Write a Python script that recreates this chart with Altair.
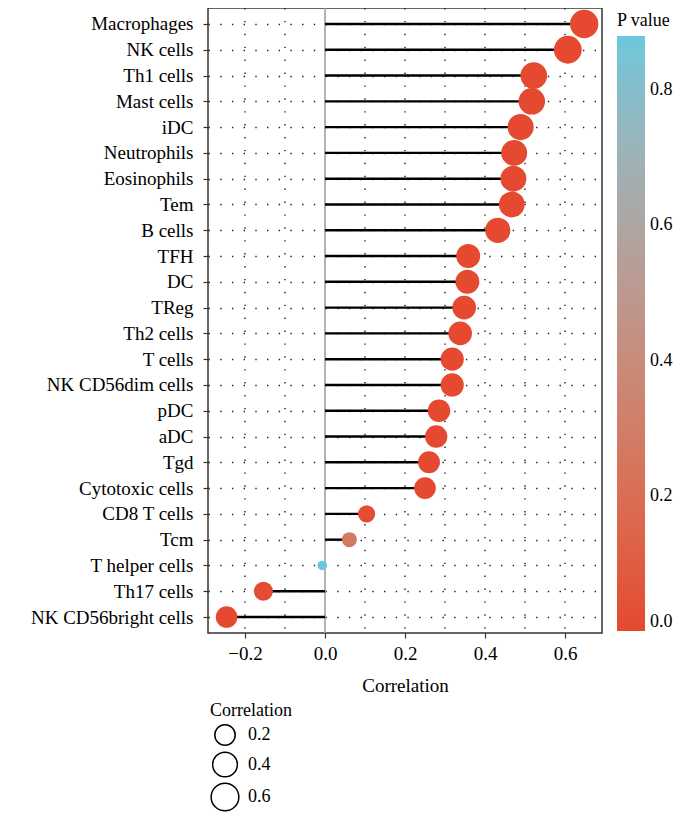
import altair as alt
import pandas as pd

cells = ["Macrophages", "NK cells", "Th1 cells", "Mast cells", "iDC", "Neutrophils",
         "Eosinophils", "Tem", "B cells", "TFH", "DC", "TReg", "Th2 cells", "T cells",
         "NK CD56dim cells", "pDC", "aDC", "Tgd", "Cytotoxic cells", "CD8 T cells",
         "Tcm", "T helper cells", "Th17 cells", "NK CD56bright cells"]
correlation = [0.648, 0.607, 0.522, 0.517, 0.489, 0.473, 0.471, 0.467, 0.432, 0.358,
               0.356, 0.348, 0.338, 0.318, 0.318, 0.285, 0.278, 0.260, 0.250, 0.104,
               0.061, -0.007, -0.154, -0.246]
p_values = [0.0, 0.0, 0.0, 0.0, 0.0, 0.0, 0.0, 0.0, 0.0, 0.0, 0.0, 0.0, 0.0, 0.0,
            0.0, 0.0, 0.0, 0.0, 0.0, 0.02, 0.27, 0.88, 0.01, 0.0]
grid_x = [-0.2, -0.1, 0.1, 0.2, 0.3, 0.4, 0.5, 0.6]
zero_line = [0.0]
x_ticks = [-0.2, 0.0, 0.2, 0.4, 0.6]
p_ticks = [0.0, 0.2, 0.4, 0.6, 0.8]
size_ticks = [0.2, 0.4, 0.6]

FONT = "Liberation Serif"

df = pd.DataFrame({"cell": cells, "cor": correlation, "p": p_values})

xscale = alt.Scale(domain=[-0.2925, 0.6925], nice=False, zero=False)
x_axis = alt.Axis(title="Correlation", values=x_ticks, format=".1f", grid=False,
                  tickSize=5, labelPadding=6, labelFontSize=19, titleFontSize=19,
                  titleFontWeight="normal", titlePadding=13, domain=False)
y_enc = alt.Y("cell:N", sort=cells,
              scale=alt.Scale(type="point", padding=0.62),
              axis=alt.Axis(title=None, grid=True, gridDash=[1.4, 10.3], gridColor="#222",
                            gridWidth=1.4, tickSize=5, labelPadding=10, labelFontSize=19,
                            domain=False))

grid = alt.Chart(pd.DataFrame({"g": grid_x})).mark_rule(
    strokeDash=[1.4, 11.5], color="#222", strokeWidth=1.4
).encode(x=alt.X("g:Q", scale=xscale, axis=x_axis))

zero = alt.Chart(pd.DataFrame({"z": zero_line})).mark_rule(
    color="#9a9a9a", strokeWidth=1.5
).encode(x=alt.X("z:Q", scale=xscale, axis=x_axis))

sticks = alt.Chart(df).mark_rule(color="black", strokeWidth=2.4).encode(
    x=alt.X("cor:Q", scale=xscale, axis=x_axis),
    x2=alt.X2Datum(0),
    y=y_enc,
)

dots = alt.Chart(df).transform_calculate(abscor="abs(datum.cor)").mark_circle(
    opacity=1
).encode(
    x=alt.X("cor:Q", scale=xscale, axis=x_axis),
    y=y_enc,
    size=alt.Size("abscor:Q",
                  scale=alt.Scale(type="pow", exponent=0.6, domain=[0, 0.65],
                                  range=[39.5, 804]),
                  legend=alt.Legend(title="Correlation", orient="none", legendX=2,
                                    legendY=694, values=size_ticks, format=".1f",
                                    symbolType="circle", symbolFillColor="white",
                                    symbolStrokeColor="black", symbolStrokeWidth=1.5,
                                    labelFontSize=18, titleFontSize=18,
                                    titleFontWeight="normal", rowPadding=0,
                                    labelOffset=8, titlePadding=4)),
    color=alt.Color("p:Q",
                    scale=alt.Scale(domain=[0, 0.88], range=["#E5492F", "#6DC7DC"],
                                    interpolate="lab"),
                    legend=alt.Legend(title="P value", orient="none", legendX=409,
                                      legendY=4, direction="vertical",
                                      gradientLength=595, gradientThickness=28,
                                      values=p_ticks, format=".1f", labelFontSize=18,
                                      titleFontSize=18, titleFontWeight="normal",
                                      titlePadding=6, labelOffset=5,
                                      gradientStrokeWidth=0)),
)

chart = alt.layer(grid, zero, sticks, dots).properties(
    width=394, height=625,
    autosize=alt.AutoSizeParams(type="none"),
    padding={"left": 200, "top": 0, "right": 75, "bottom": 180},
).configure(font=FONT).configure_view(
    stroke="#333", strokeWidth=1.5
).configure_axis(
    labelFont=FONT, titleFont=FONT, labelColor="black", titleColor="black",
    tickColor="#333", tickWidth=1.2
).configure_legend(
    labelFont=FONT, titleFont=FONT, labelColor="black", titleColor="black",
    labelFontSize=18, titleFontSize=18
)

chart.save("out.html", embed_options={"renderer": "svg", "actions": False})
